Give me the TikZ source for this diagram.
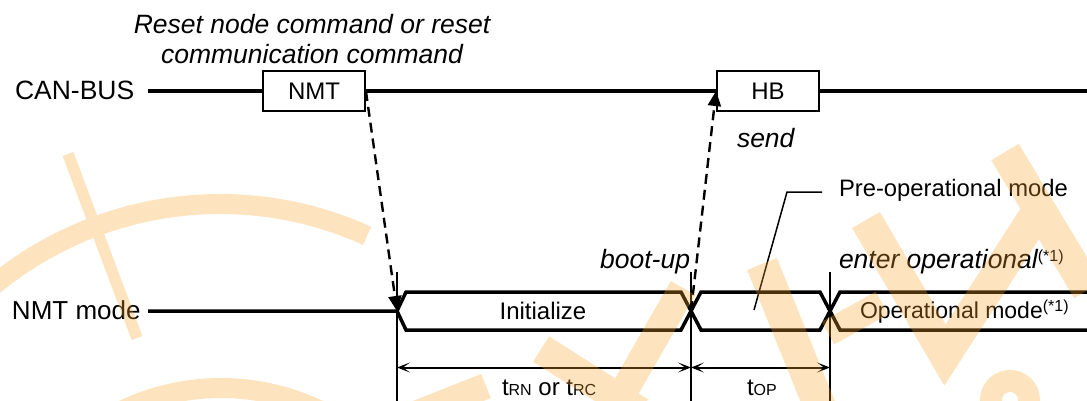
\documentclass[tikz,border=0pt]{standalone}
\usepackage{fontspec}
\setmainfont{Liberation Sans}
\usetikzlibrary{arrows.meta}

\definecolor{wmorange}{RGB}{250,166,45}
\newcommand\subfont[1]{{\fontsize{16}{18}\selectfont #1}}
\newcommand\fnmark{\raisebox{6.5pt}{\fontsize{16}{18}\selectfont\upshape(*1)}}

\begin{document}
\begin{tikzpicture}[x=1pt, y=-1pt,
  label/.style={inner sep=0pt, outer sep=0pt, font=\fontsize{26.5}{30}\selectfont},
  note/.style={label, font=\fontsize{26.5}{30}\selectfont\itshape},
  intext/.style={inner sep=0pt, outer sep=0pt, font=\fontsize{24}{28}\selectfont},
  msgbox/.style={draw, line width=1.8pt, minimum width=102pt, minimum height=40pt,
                 inner sep=0pt, fill=white, font=\fontsize{24}{28}\selectfont},
  busline/.style={line width=3.2pt},
  signal/.style={line width=3.5pt, line join=miter},
  trigger/.style={line width=2.4pt, dash pattern=on 10pt off 6pt,
                  -{Triangle[length=15pt,width=13pt]}},
  extline/.style={line width=1.5pt},
  dimline/.style={line width=2pt,
                  {Stealth[length=13pt,width=10pt,inset=7pt]}-{Stealth[length=13pt,width=10pt,inset=7pt]}},
  leader/.style={line width=1.5pt},
  wm/.style={draw=wmorange, line cap=butt},
]
\useasboundingbox (0,0) rectangle (1087,401);
\fill[white] (0,0) rectangle (1087,401);

% ---- CAN bus row ----
\node[label, anchor=base west] (canbus) at (15,100) {CAN-BUS};
\coordinate (busL) at (148,91);
\coordinate (busR) at (1095,91);
\node[msgbox] (nmtbox) at (314,91) {NMT};
\node[msgbox] (hbbox) at (768,91) {HB};
\draw[busline] (busL) -- (nmtbox.west);
\draw[busline] (nmtbox.east) -- (hbbox.west);
\draw[busline] (hbbox.east) -- (busR);

\node[note, anchor=base] (cmd1) at (312,33.5) {Reset node command or reset};
\node[note, anchor=base] (cmd2) at (312,63.5) {communication command};
\node[note, anchor=base west] (send) at (737,147) {send};

% ---- NMT mode row ----
\node[label, font=\fontsize{26}{30}\selectfont, anchor=base west] (nmtmode) at (12,319.5) {NMT mode};
\coordinate (modeL) at (148,311);
\coordinate (s0) at (397,311);
\coordinate (x1) at (691,311);
\coordinate (x2) at (830,311);

\draw[signal] (modeL) -- (s0) -- (406,292) -- (681,292) -- (701,330) -- (820,330) -- (840,292) -- (1095,292);
\draw[signal] (s0) -- (406,330) -- (681,330) -- (701,292) -- (820,292) -- (840,330) -- (1095,330);

\node[intext, anchor=base] (init) at (543,319) {Initialize};
\node[intext, font=\fontsize{23}{27}\selectfont, anchor=base west] (opmode) at (860,318) {Operational mode\fnmark};
\node[intext, font=\fontsize{23.8}{28}\selectfont, anchor=base west] (preop) at (839,196) {Pre-operational mode};
\node[note, anchor=base east] (bootup) at (690,268) {boot-up};
\node[note, anchor=base west] (enterop) at (839,268) {enter operational\fnmark};

% leader to the pre-operational state
\coordinate (pl1) at (822,192);
\coordinate (pl2) at (787,192);
\coordinate (pl3) at (754,310);
\draw[leader] (pl1) -- (pl2) -- (pl3);

% ---- triggers ----
\draw[trigger] (nmtbox.east) -- (s0);
\draw[trigger] (x1) -- (hbbox.west);

% ---- timing dimensions ----
\coordinate (e0t) at (397,272); \coordinate (e0b) at (397,405);
\coordinate (e1t) at (691,272); \coordinate (e1b) at (691,405);
\coordinate (e2t) at (830,272); \coordinate (e2b) at (830,405);
\draw[extline] (e0t) -- (e0b);
\draw[extline] (e1t) -- (e1b);
\draw[extline] (e2t) -- (e2b);
\coordinate (d0) at (397,367.5);
\coordinate (d1) at (691,367.5);
\coordinate (d2) at (830,367.5);
\draw[dimline] (d0) -- (d1);
\draw[dimline] (d1) -- (d2);
\node[intext, anchor=base west] (trn) at (502,395) {t\subfont{RN} or t\subfont{RC}};
\node[intext, anchor=base west] (top) at (747,395) {t\subfont{OP}};

% ---- watermark ----
\begin{scope}[transparency group, opacity=0.3]
  \clip (0,0) rectangle (1087,401);
  \draw[wm, line width=20pt] (220,560) ++(-65.6:356) arc[start angle=-65.6, end angle=-145, radius=356];
  \draw[wm, line width=20pt] (221,616) ++(-58:228) arc[start angle=-58, end angle=-122, radius=228];
  \draw[wm, line width=11.5pt] (68,154) -- (137,338);
  \draw[wm, line width=26pt] (486,386) -- (380,428);
  \draw[wm, line width=30pt] (541,349) -- (640,412);
  \draw[wm, line width=28pt] (683,288) -- (612,412);
  \draw[wm, line width=32pt] (762,264) -- (822,412);
  \draw[wm, line width=26pt] (828,333) -- (882,303);
  \draw[wm, line width=32pt, line join=miter] (866,220) -- (945,355) -- (1040,208);
  \draw[wm, line width=32pt] (1005,152) -- (1088,290);
  \draw[wm, line width=22pt] (1010,400) circle[radius=19];
\end{scope}
\end{tikzpicture}
\end{document}
